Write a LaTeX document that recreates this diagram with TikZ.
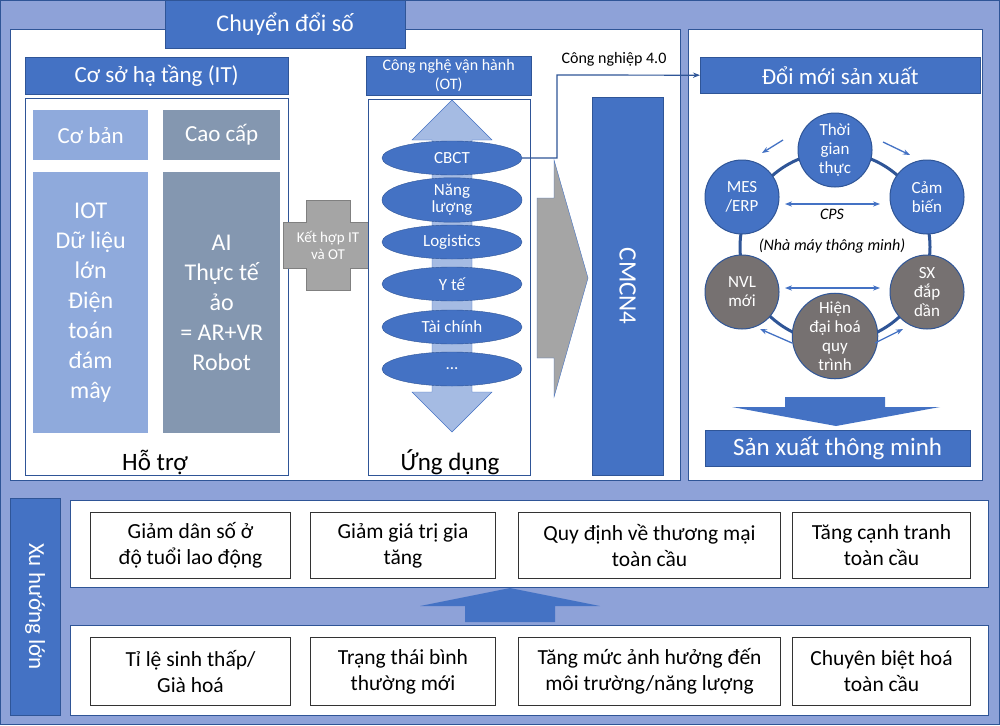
\documentclass[tikz,border=0pt]{standalone}
\usepackage{fontspec}
\setmainfont{Carlito}
\usetikzlibrary{shapes.geometric,shapes.arrows,arrows.meta}
\definecolor{bl}{HTML}{4472C4}
\definecolor{lb}{HTML}{8FAADC}
\definecolor{gb}{HTML}{8497B0}
\definecolor{bg}{HTML}{8EA2D8}
\definecolor{gr}{HTML}{A5A5A5}
\definecolor{dg}{HTML}{767171}
\definecolor{ln}{HTML}{2F5597}
\begin{document}
\begin{tikzpicture}[x=1pt,y=-1pt,
 bar/.style={fill=bl,draw=ln,text=white,font=\fontsize{23}{25}\selectfont},
 pan/.style={fill=white,draw=ln,line width=1pt},
 tb/.style={fill=white,draw=black!80,line width=1pt,align=center,font=\fontsize{21.5}{26}\selectfont},
 ell/.style={ellipse,fill=bl,draw=ln,minimum width=140,minimum height=34,text=white,font=\fontsize{17}{18}\selectfont,inner sep=0pt,align=center},
 circ/.style={circle,minimum size=74,inner sep=0pt,draw=ln,line width=1pt,text=white,align=center,font=\fontsize{17}{19}\selectfont},
 sa/.style={-{Stealth[length=7pt]},draw=bl,line width=1.3pt},
 da/.style={{Stealth[length=7pt]}-{Stealth[length=7pt]},draw=bl,line width=1.3pt}]
\useasboundingbox (0,0) rectangle (1000,725);
\fill[bg] (0,0) rectangle (1000,725);
\draw[ln,line width=1pt] (0.5,0.5) rectangle (999.5,724.5);
% panels
\draw[pan] (10,30) rectangle (680,480);
\draw[pan] (688,30) rectangle (982,480);
\draw[pan] (70,500) rectangle (988,587);
\draw[pan] (70,625) rectangle (988,715);
\node[bar,minimum width=240,minimum height=48,anchor=north west,font=\fontsize{24}{26}\selectfont] (title) at (165,0) {Chuyển đổi số};
% left
\node[bar,minimum width=263,minimum height=37,anchor=north west] (csht) at (25,57) {Cơ sở hạ tầng (IT)};
\draw[pan,line width=0.8pt] (25,98) rectangle (288,475);
\node[font=\fontsize{25}{27}\selectfont] (hotro) at (155,462) {Hỗ trợ};
\node[fill=lb,minimum width=115,minimum height=50,anchor=north west,text=white,font=\fontsize{23}{25}\selectfont] (cb) at (33,110) {Cơ bản};
\node[fill=gb,minimum width=117,minimum height=50,anchor=north west,text=white,font=\fontsize{23}{25}\selectfont] (cc) at (163,110) {Cao cấp};
\node[fill=lb,minimum width=115,minimum height=261,anchor=north west,text=white,align=center,font=\fontsize{24}{30}\selectfont] (cb2) at (33,172) {IOT\\Dữ liệu\\lớn\\Điện\\toán\\đám\\mây};
\node[fill=gb,minimum width=117,minimum height=261,anchor=north west,text=white,align=center,font=\fontsize{24}{30}\selectfont] (cc2) at (163,172) {AI\\Thực tế\\ảo\\= AR+VR\\Robot};
\fill[gr,draw=gray] (306,200)--(350,200)--(350,222)--(373,222)--(373,268)--(350,268)--(350,290)--(306,290)--(306,268)--(283,268)--(283,222)--(306,222)--cycle;
\node[align=center,text=white,font=\fontsize{15}{17}\selectfont] (kh) at (328,245) {Kết hợp IT\\và OT};
% middle
\node[bar,minimum width=165,minimum height=38,anchor=north west,align=center,font=\fontsize{16}{19}\selectfont] (ot) at (366,56) {Công nghệ vận hành\\(OT)};
\draw[pan,line width=0.8pt] (368,99) rectangle (530,475);
\fill[lb!80,draw=bl] (452,100)--(492,140)--(472,140)--(472,392)--(492,392)--(452,432)--(412,392)--(432,392)--(432,140)--(412,140)--cycle;
\node[font=\fontsize{25}{27}\selectfont] (ud) at (450,462) {Ứng dụng};
\node[ell] (e1) at (452,158) {CBCT};
\node[ell] (e2) at (452,200) {Năng\\[-1pt]lượng};
\node[ell] (e3) at (452,242) {Logistics};
\node[ell] (e4) at (452,284) {Y tế};
\node[ell] (e5) at (452,327) {Tài chính};
\node[ell] (e6) at (452,369) {...};
\fill[gr,draw=bl] (537,198)--(554,198)--(554,160)--(588,278)--(554,397)--(554,358)--(537,358)--cycle;
\node[fill=bl,draw=ln,minimum width=71,minimum height=378,anchor=north west] (cm) at (592,97) {};
\node[rotate=-90,text=white,font=\fontsize{25}{27}\selectfont] (cmt) at (cm.center) {CMCN4};
% right
\node[bar,minimum width=280,minimum height=36,anchor=north west] (dm) at (700,57) {Đổi mới sản xuất};
\node[font=\fontsize{16}{18}\selectfont] (cn) at (614,59) {Công nghiệp 4.0};
\coordinate (k) at (557,75);
\draw[ln,line width=1.2pt,-{Stealth[length=7pt]}] (e1.east) -| (k) -- (dm.west);
\draw[ln,line width=3pt] (835,247) circle (95);
\node[circ,fill=bl] (c1) at (835,150) {Thời\\gian\\thực};
\node[circ,fill=bl] (c2) at (927,197) {Cảm\\biến};
\node[circ,fill=dg] (c3) at (927,292) {SX\\đắp\\dần};
\node[circ,fill=dg] (c4) at (835,336) {Hiện\\đại hoá\\quy\\trình};
\node[circ,fill=dg] (c5) at (742,292) {NVL\\mới};
\node[circ,fill=bl] (c6) at (742,197) {MES\\/ERP};
\coordinate (a1) at (783,140); \coordinate (b1) at (762,153);
\coordinate (a2) at (883,142); \coordinate (b2) at (910,155);
\coordinate (a3) at (792,343); \coordinate (b3) at (760,329);
\coordinate (a4) at (875,343); \coordinate (b4) at (903,329);
\draw[sa] (a1)--(b1); \draw[sa] (a2)--(b2); \draw[sa] (a3)--(b3); \draw[sa] (a4)--(b4);
\coordinate (d1) at (785,204); \coordinate (d2) at (880,204);
\coordinate (d3) at (785,288); \coordinate (d4) at (880,288);
\draw[da] (d1)--(d2); \draw[da] (d3)--(d4);
\node[font=\itshape\fontsize{16}{18}\selectfont] (cps) at (832,214) {CPS};
\node[font=\itshape\fontsize{16}{18}\selectfont] (nm) at (832,246) {(Nhà máy thông minh)};
\fill[bl] (785,397)--(885,397)--(885,407)--(940,407)--(836,426)--(732,407)--(785,407)--cycle;
\node[bar,minimum width=265,minimum height=36,anchor=north west,font=\fontsize{25}{27}\selectfont] (sx) at (705,430) {Sản xuất thông minh};
% bottom
\node[bar,minimum width=50,minimum height=217,anchor=north west] (xh) at (10,498) {};
\node[rotate=-90,text=white,font=\fontsize{23}{25}\selectfont] (xht) at (xh.center) {Xu hướng lớn};
\node[tb,minimum width=200,minimum height=66,anchor=north west] (t1) at (90,512) {Giảm dân số ở\\độ tuổi lao động};
\node[tb,minimum width=185,minimum height=66,anchor=north west] (t2) at (310,512) {Giảm giá trị gia\\tăng};
\node[tb,minimum width=262,minimum height=66,anchor=north west] (t3) at (518,512) {Quy định về thương mại\\toàn cầu};
\node[tb,minimum width=178,minimum height=66,anchor=north west] (t4) at (792,512) {Tăng cạnh tranh\\toàn cầu};
\fill[bl] (510,588)--(600,606)--(555,606)--(555,622)--(465,622)--(465,606)--(420,606)--cycle;
\node[tb,minimum width=200,minimum height=68,anchor=north west] (u1) at (90,637) {Tỉ lệ sinh thấp/\\Già hoá};
\node[tb,minimum width=185,minimum height=68,anchor=north west] (u2) at (310,637) {Trạng thái bình\\thường mới};
\node[tb,minimum width=262,minimum height=68,anchor=north west] (u3) at (518,637) {Tăng mức ảnh hưởng đến\\môi trường/năng lượng};
\node[tb,minimum width=178,minimum height=68,anchor=north west] (u4) at (792,637) {Chuyên biệt hoá\\toàn cầu};
\end{tikzpicture}
\end{document}
